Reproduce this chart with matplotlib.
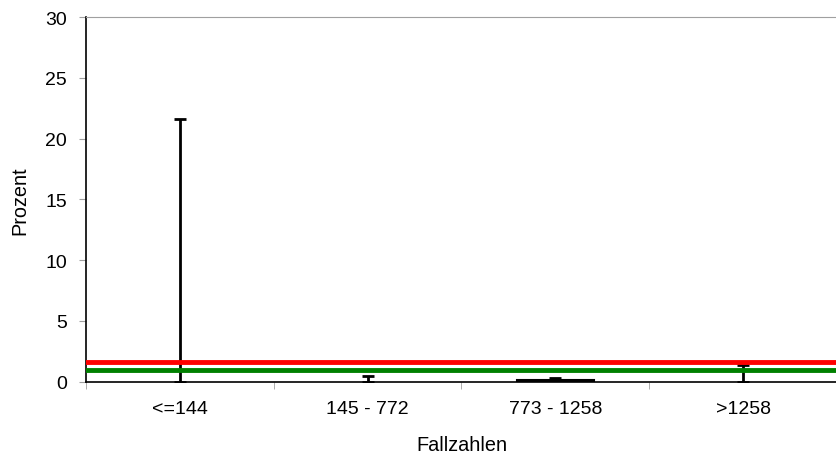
import numpy as np
import matplotlib.pyplot as plt

# values
categories = ['<=144', '145 - 772', '773 - 1258', '>1258']
values = [0.0, 0.0, 0.15, 0.0]
err_upper = [21.6, 0.45, 0.3, 1.37]
ref_red = 1.6
ref_green = 1.0

plt.rcParams['font.family'] = ['Liberation Sans', 'DejaVu Sans']

fig = plt.figure(figsize=(8.37, 4.56), dpi=100)
ax = fig.add_axes([86 / 837, 1 - 382.7 / 456, 1 - 86 / 837, (382.7 - 18) / 456])

x = np.arange(len(categories))
# only bars with a visible height get an outline
edges = ['black' if v > 0 else 'none' for v in values]
ax.bar(x, values, width=0.41, color='black', edgecolor=edges, linewidth=1.5, zorder=4)
lower = np.array(values)
upper = np.array(err_upper) - lower
ax.errorbar(x, values, yerr=[np.zeros_like(upper), upper], fmt='none',
            ecolor='black', elinewidth=2, capsize=4, capthick=2, zorder=3)

ax.axhline(ref_red, color='#ff0000', lw=3.5, zorder=5)
ax.axhline(ref_green, color='#008000', lw=3.5, zorder=5)

ax.set_xlim(-0.5, 3.5)
ax.set_ylim(0, 30)
ax.set_yticks([0, 5, 10, 15, 20, 25, 30])
ax.set_xticks(x)
ax.set_xticklabels(categories)
ax.set_xticks(np.arange(-0.5, 4, 1), minor=True)
ax.tick_params(axis='x', which='major', length=0, pad=13, labelsize=14)
ax.tick_params(axis='x', which='minor', length=5, color='#a0a0a0', direction='out')
ax.tick_params(axis='y', length=5, color='#a0a0a0', labelsize=14, pad=8.5)

ax.spines['right'].set_visible(False)
ax.spines['top'].set_color('#a0a0a0')
ax.spines['left'].set_linewidth(1.2)
ax.spines['bottom'].set_linewidth(1.2)

ax.set_xlabel('Fallzahlen', fontsize=14.3, labelpad=13)
ax.set_ylabel('Prozent', fontsize=14.3, labelpad=11.5)

fig.savefig('out.png', dpi=100)
